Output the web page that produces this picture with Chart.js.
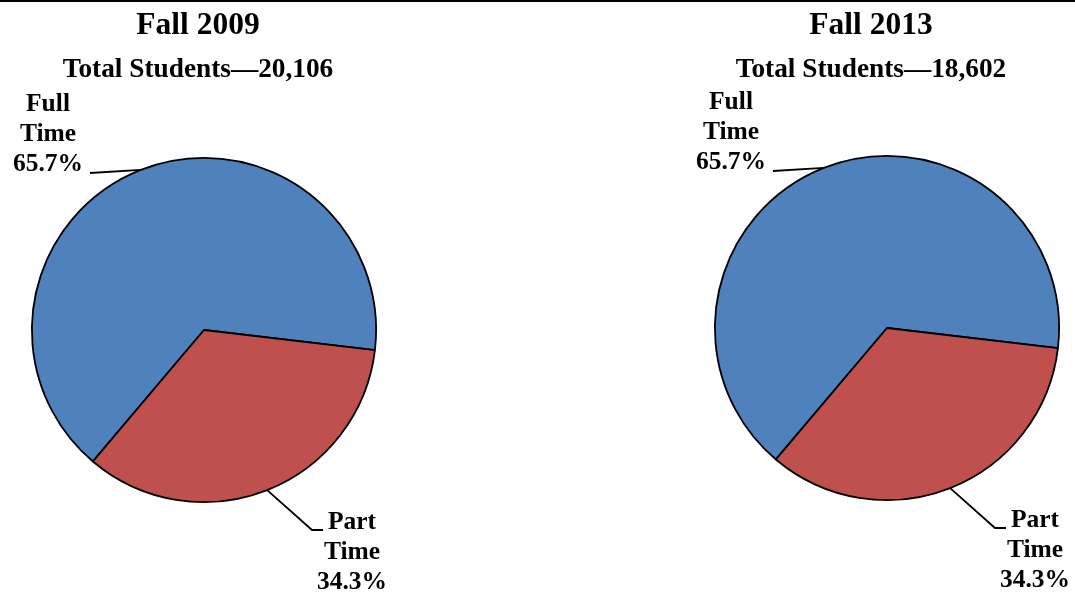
<!DOCTYPE html>
<html>
<head>
<meta charset="utf-8">
<script src="https://cdn.jsdelivr.net/npm/chart.js@4/dist/chart.umd.min.js"></script>
<style>
  body{margin:0;background:#fff;width:1075px;height:595px;overflow:hidden;position:relative;}
  #topline{position:absolute;left:0;top:0;width:1075px;height:2px;background:#000;z-index:2;}
  canvas{position:absolute;top:0;}
</style>
</head>
<body>
<div id="topline"></div>
<canvas id="pie2009" width="537" height="595" style="left:0px"></canvas>
<canvas id="pie2013" width="538" height="595" style="left:537px"></canvas>
<script>
var years = ['Fall 2009', 'Fall 2013'];
var totals = ['20,106', '18,602'];
var categories = ['Full Time', 'Part Time'];
var fullTime = [65.7, 65.7];
var partTime = [34.3, 34.3];
var colors = ['#4F81BD', '#C0504D'];

var serif = "'Liberation Serif', 'Times New Roman', serif";

// where each label sits, relative to the pie centre
var labelPlaces = [
  {line: [[-114, -157]], text: [-156, -226]},
  {line: [[108, 200], [119, 200]], text: [148, 192]}
];

var sliceLabels = {
  id: 'sliceLabels',
  afterDatasetsDraw: function(chart, args, opts){
    var ctx = chart.ctx;
    var arcs = chart.getDatasetMeta(0).data;
    var values = chart.data.datasets[0].data;
    var c = arcs[0].getProps(['x', 'y'], true);
    ctx.save();
    ctx.fillStyle = '#000';
    ctx.strokeStyle = '#000';
    ctx.lineWidth = 1.8;
    ctx.textAlign = 'center';
    ctx.textBaseline = 'middle';

    // headings
    ctx.font = 'bold 31.5px ' + serif;
    ctx.fillText(opts.title, c.x + opts.titleShift, 25.5);
    ctx.font = 'bold 27.3px ' + serif;
    ctx.fillText(opts.subtitle, c.x + opts.titleShift, 69.5);

    ctx.font = 'bold 25.5px ' + serif;
    for(var i = 0; i < arcs.length; i++){
      var p = arcs[i].getProps(['x', 'y', 'startAngle', 'endAngle', 'outerRadius'], true);
      var mid = (p.startAngle + p.endAngle) / 2;
      var place = labelPlaces[i];
      ctx.beginPath();
      ctx.moveTo(p.x + Math.cos(mid) * p.outerRadius, p.y + Math.sin(mid) * p.outerRadius);
      for(var pt of place.line){
        ctx.lineTo(p.x + pt[0], p.y + pt[1]);
      }
      ctx.stroke();
      var lines = chart.data.labels[i].split(' ').concat([values[i].toFixed(1) + '%']);
      for(var k = 0; k < lines.length; k++){
        ctx.fillText(lines[k], p.x + place.text[0], p.y + place.text[1] + k * 30);
      }
    }
    ctx.restore();
  }
};

function makePie(id, idx, pad, titleShift){
  return new Chart(document.getElementById(id), {
    type: 'pie',
    data: {
      labels: categories,
      datasets: [{
        data: [fullTime[idx], partTime[idx]],
        backgroundColor: colors,
        borderColor: '#000',
        borderWidth: 1.8
      }]
    },
    options: {
      responsive: false,
      animation: false,
      rotation: -139.8,
      layout: {padding: pad},
      plugins: {
        legend: {display: false},
        tooltip: {enabled: false},
        title: {display: false},
        sliceLabels: {
          title: years[idx],
          subtitle: 'Total Students\u2014' + totals[idx],
          titleShift: titleShift
        }
      }
    },
    plugins: [sliceLabels]
  });
}

makePie('pie2009', 0, {left: 24, right: 153, top: 157, bottom: 92}, -6);
makePie('pie2013', 1, {left: 170, right: 8, top: 155, bottom: 94}, -16);
</script>
</body>
</html>
